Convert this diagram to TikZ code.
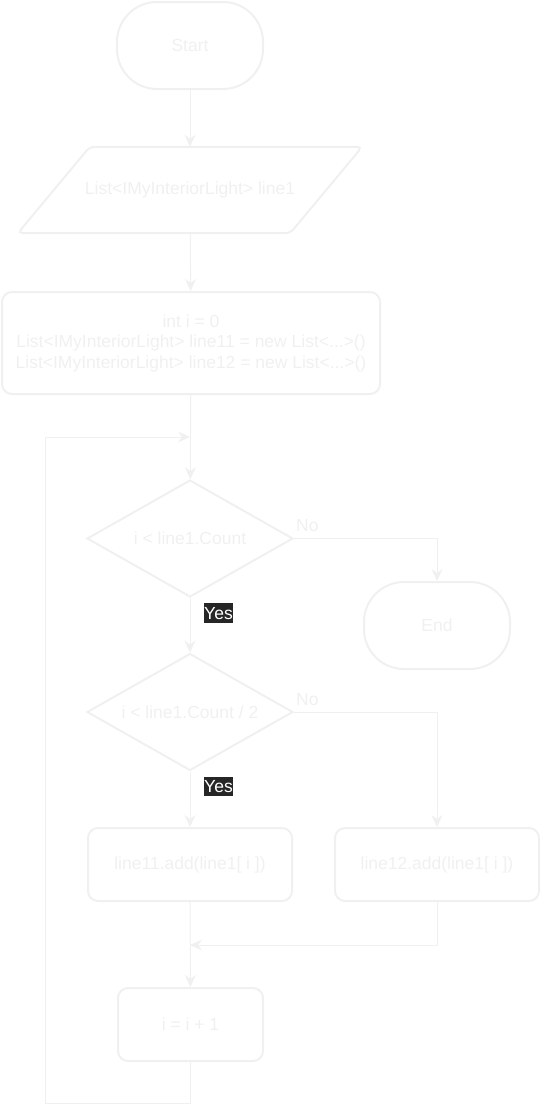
\documentclass[tikz,border=0pt]{standalone}
\usepackage{fontspec}
\setmainfont{Liberation Sans}
\usetikzlibrary{shapes.geometric,arrows.meta,positioning}
\definecolor{ghost}{HTML}{F0F0F0}
\definecolor{tagbg}{HTML}{262626}
\begin{document}
\begin{tikzpicture}[x=1pt,y=-1pt,every node/.style={font=\fontsize{17.5}{20.5}\selectfont, text=ghost, align=center},terminal/.style={draw=ghost, line width=2pt, rectangle, rounded corners=40pt, minimum width=146pt, minimum height=87pt},io/.style={rectangle, minimum width=272pt, minimum height=86pt},outline/.style={draw=ghost, line width=2pt, rounded corners=5pt},proc/.style={draw=ghost, line width=2pt, rectangle, rounded corners=10pt, minimum width=204pt, minimum height=73pt},decision/.style={draw=ghost, line width=2pt, diamond, aspect=1.76, inner sep=0pt, minimum width=206pt, minimum height=117pt},flow/.style={draw=ghost, line width=1pt, -{Stealth[length=12pt,width=11pt,inset=4pt]}},nolbl/.style={inner sep=0pt, text height=15.8pt, text depth=3.7pt},yeslbl/.style={fill=tagbg, text=white, inner sep=0pt, text height=15.8pt, text depth=3.7pt}]
\useasboundingbox (0,0) rectangle (541,1117);
\node[terminal] (start) at (190,45.5) {Start};
\node[io] (input) at (190,190) {List<IMyInteriorLight> line1};
\draw[outline] ([xshift=-36pt]input.south west) -- ([xshift=36pt]input.north west) -- ([xshift=36pt]input.north east) -- ([xshift=-36pt]input.south east) -- cycle;
\node[proc, minimum width=378pt, minimum height=102pt] (init) at (191,343) {int i = 0\\List<IMyInteriorLight> line11 = new List<...>()\\List<IMyInteriorLight> line12 = new List<...>()};
\node[decision] (loop) at (190,538.5) {i < line1.Count};
\node[terminal] (end) at (437,625.5) {End};
\node[decision] (half) at (190,712) {i < line1.Count / 2};
\node[proc] (addA) at (190,864.5) {line11.add(line1[ i ])};
\node[proc] (addB) at (437,864.5) {line12.add(line1[ i ])};
\node[proc, minimum width=145pt] (incr) at (190.5,1024.5) {i = i + 1};
\coordinate (join) at (190,437);
\coordinate (merge) at (190,945);
\coordinate (back) at (45,1103);
% connectors
\draw[flow] (start) -- (input);
\draw[flow] (input) -- (init);
\draw[flow] (init) -- (loop);
\draw[flow] (loop.east) -| (end.north);
\draw[flow] (loop) -- (half);
\draw[flow] (half.east) -| (addB.north);
\draw[flow] (half) -- (addA);
\draw[flow] (addA) -- (incr);
\draw[flow] (addB.south) |- (merge);
\draw[flow] (incr.south) |- (back) |- (join);
% branch labels
\node[nolbl, above right=3pt and 2pt of loop.east] (no1) {No};
\node[yeslbl, below right=5pt and 14pt of loop.south] (yes1) {Yes};
\node[nolbl, above right=3pt and 2pt of half.east] (no2) {No};
\node[yeslbl, below right=5pt and 14pt of half.south] (yes2) {Yes};
\end{tikzpicture}
\end{document}
